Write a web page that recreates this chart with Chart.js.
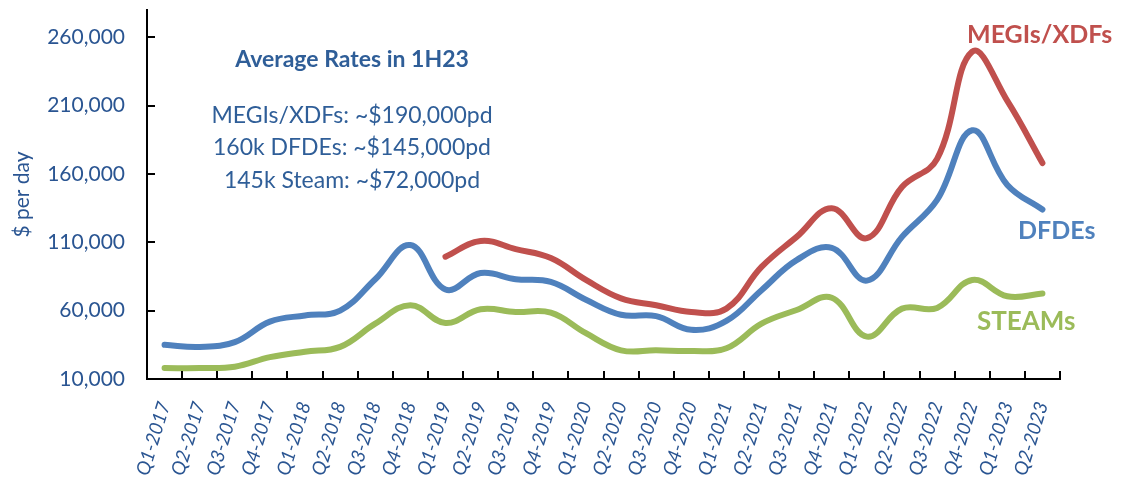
<!DOCTYPE html>
<html>
<head>
<meta charset="utf-8">
<script src="https://cdn.jsdelivr.net/npm/chart.js@4"></script>
<style>
  html, body { margin: 0; padding: 0; background: #fff; }
  #wrap { width: 1125px; height: 482px; position: relative; }
</style>
</head>
<body>
<div id="wrap"><canvas id="rates"></canvas></div>
<script>
// quarters on the x axis
const quarters = [
  'Q1-2017', 'Q2-2017', 'Q3-2017', 'Q4-2017',
  'Q1-2018', 'Q2-2018', 'Q3-2018', 'Q4-2018',
  'Q1-2019', 'Q2-2019', 'Q3-2019', 'Q4-2019',
  'Q1-2020', 'Q2-2020', 'Q3-2020', 'Q4-2020',
  'Q1-2021', 'Q2-2021', 'Q3-2021', 'Q4-2021',
  'Q1-2022', 'Q2-2022', 'Q3-2022', 'Q4-2022',
  'Q1-2023', 'Q2-2023'
];

// $ per day
const megiRates = [null, null, null, null, null, null, null, null,
  99500, 111000, 105000, 98500, 82500, 69000, 64000, 59000,
  61500, 92000, 114000, 135000, 113000, 150500, 171000, 249500, 213500, 168000];
const dfdeRates = [35000, 33500, 37000, 52000, 56500, 60000, 83000, 108000,
  75500, 87500, 83000, 81000, 68000, 57000, 56000, 46000,
  52500, 75000, 97000, 106000, 82000, 114000, 141000, 192000, 152000, 134000];
const steamRates = [18000, 18000, 19000, 26000, 30000, 33500, 50500, 64000,
  51000, 61000, 59000, 58500, 43500, 31000, 31000, 30500,
  32500, 50500, 60500, 69500, 41000, 61500, 62000, 82500, 70500, 72500];

const yTicks = [10000, 60000, 110000, 160000, 210000, 260000];

const RED = '#C0504D';
const BLUE = '#4F81BD';
const GREEN = '#9BBB59';
const TEXT = '#2A5592';
const NOTE = '#2F5E98';

// inner tick marks + text boxes
const extras = {
  id: 'extras',
  afterDraw(chart) {
    const { ctx, scales: { x, y } } = chart;
    ctx.save();
    ctx.strokeStyle = '#000';
    ctx.lineWidth = 2;
    ctx.beginPath();
    yTicks.forEach(v => {
      const py = Math.round(y.getPixelForValue(v));
      ctx.moveTo(x.left, py);
      ctx.lineTo(x.left + 8, py);
    });
    for (let k = 0; k <= quarters.length; k++) {
      const px = Math.round(x.getPixelForValue(k - 0.5));
      ctx.moveTo(px, y.bottom);
      ctx.lineTo(px, y.bottom - 8);
    }
    ctx.stroke();

    ctx.textAlign = 'center';
    ctx.textBaseline = 'middle';
    ctx.fillStyle = NOTE;
    ctx.font = 'bold 23px Lato';
    ctx.fillText('Average Rates in 1H23', 352, 60);
    ctx.font = '23px Lato';
    ctx.fillText('MEGIs/XDFs: ~$190,000pd', 352, 116);
    ctx.fillText('160k DFDEs: ~$145,000pd', 352, 148);
    ctx.fillText('145k Steam: ~$72,000pd', 352, 181);

    ctx.textAlign = 'left';
    ctx.font = 'bold 25px Lato';
    ctx.fillStyle = RED;
    ctx.fillText('MEGIs/XDFs', 967, 35);
    ctx.fillStyle = BLUE;
    ctx.fillText('DFDEs', 1018, 231);
    ctx.fillStyle = GREEN;
    ctx.font = 'bold 26px Lato';
    ctx.fillText('STEAMs', 977, 322);
    ctx.restore();
  }
};

function line(label, data, color) {
  return {
    label,
    data,
    borderColor: color,
    backgroundColor: color,
    borderWidth: 6,
    borderCapStyle: 'round',
    borderJoinStyle: 'round',
    pointRadius: 0,
    tension: 0.4,
    spanGaps: false,
    fill: false
  };
}

new Chart(document.getElementById('rates'), {
  type: 'line',
  data: {
    labels: quarters,
    datasets: [
      line('MEGIs/XDFs', megiRates, RED),
      line('DFDEs', dfdeRates, BLUE),
      line('STEAMs', steamRates, GREEN)
    ]
  },
  options: {
    responsive: true,
    maintainAspectRatio: false,
    animation: false,
    layout: { padding: { top: 10, right: 65, left: 0, bottom: 0 } },
    plugins: {
      legend: { display: false },
      tooltip: { enabled: false }
    },
    scales: {
      x: {
        offset: true,
        grid: { display: false, drawTicks: false },
        border: { display: true, color: '#000', width: 2 },
        ticks: {
          autoSkip: false,
          minRotation: 73,
          maxRotation: 73,
          padding: 20,
          color: TEXT,
          font: { family: 'Lato', size: 19, style: 'italic' }
        },
        afterFit(scale) {
          scale.height = 103;
          scale.paddingLeft = 0;
          scale.paddingRight = 0;
        }
      },
      y: {
        min: 10000,
        max: 280000,
        grid: { display: false, drawTicks: false },
        border: { display: true, color: '#000', width: 2 },
        afterBuildTicks(scale) { scale.ticks = yTicks.map(v => ({ value: v })); },
        ticks: {
          padding: 22,
          color: TEXT,
          font: { family: 'Lato', size: 21 },
          callback: v => v.toLocaleString('en-US')
        },
        title: {
          display: true,
          text: '$ per day',
          color: TEXT,
          padding: { top: 10, bottom: 0 },
          font: { family: 'Lato', size: 21 }
        },
        afterFit(scale) {
          scale.width = 147;
          scale.paddingTop = 0;
          scale.paddingBottom = 0;
        }
      }
    }
  },
  plugins: [extras]
});
</script>
</body>
</html>
